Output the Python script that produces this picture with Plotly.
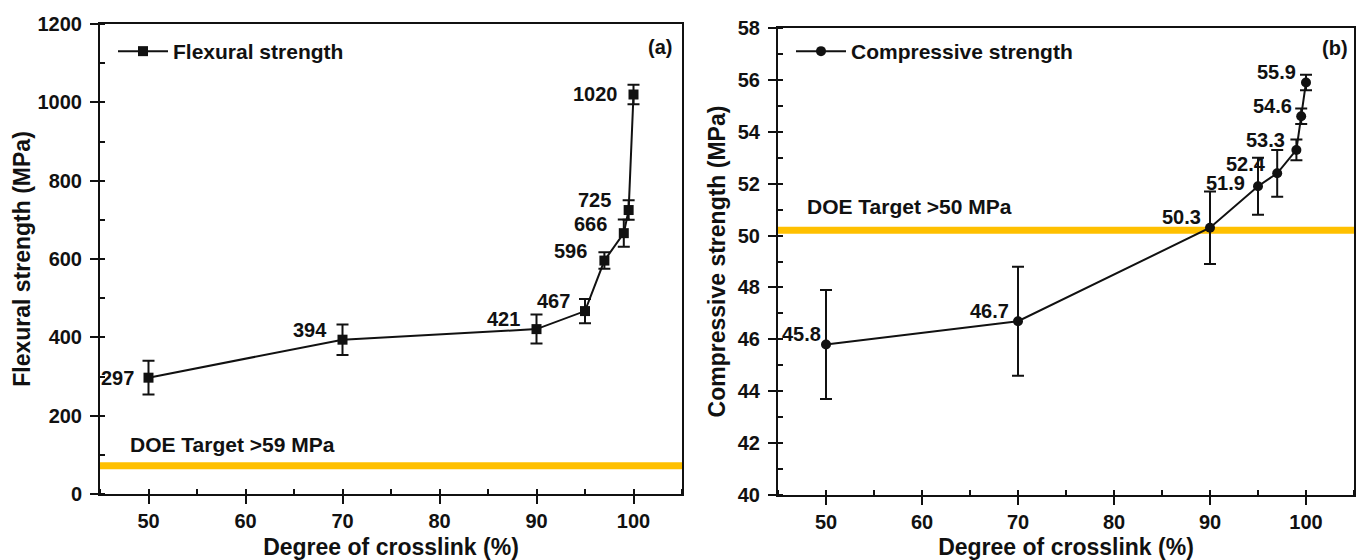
import plotly.graph_objects as go

# ---------------- data ----------------
crosslink_a = [50, 70, 90, 95, 97, 99, 99.5, 100]
flexural = [297, 394, 421, 467, 596, 666, 725, 1020]
flexural_err = [43, 39, 37, 31, 21, 35, 25, 25]
flexural_labels = ["297", "394", "421", "467", "596", "666", "725", "1020"]
flexural_target = 72
flexural_target_text = "DOE Target >59 MPa"
flexural_ticks = [0, 200, 400, 600, 800, 1000, 1200]

crosslink_b = [50, 70, 90, 95, 97, 99, 99.5, 100]
compressive = [45.8, 46.7, 50.3, 51.9, 52.4, 53.3, 54.6, 55.9]
compressive_err = [2.1, 2.1, 1.4, 1.1, 0.9, 0.4, 0.3, 0.3]
compressive_labels = ["45.8", "46.7", "50.3", "51.9", "52.4", "53.3", "54.6", "55.9"]
compressive_target = 50.2
compressive_target_text = "DOE Target >50 MPa"
compressive_ticks = [40, 42, 44, 46, 48, 50, 52, 54, 56, 58]

x_ticks = [50, 60, 70, 80, 90, 100]

# ---------------- styling (label offsets in px) ----------------
lab_shift_a = [(-8, 0), (-9, 10), (-10, 10), (-8, 10), (-10, 10), (-10, 9), (-11, 10), (-9, 0)]
lab_shift_b = [(-2, 11), (-6, 10), (-6, 11), (-10, 3), (-8, 9), (-8, 10), (-6, 10), (-7, 10)]

FONT = "Liberation Sans, Arial, sans-serif"
BLACK = "#111111"
YELLOW = "#FFC000"

fig = go.Figure()

fig.add_trace(go.Scatter(
    x=crosslink_a, y=flexural, mode="lines+markers", name="Flexural strength",
    line=dict(color=BLACK, width=2),
    marker=dict(symbol="square", size=10, color=BLACK),
    error_y=dict(type="data", array=flexural_err, color=BLACK, thickness=2, width=6),
    xaxis="x", yaxis="y", legend="legend",
))
fig.add_trace(go.Scatter(
    x=crosslink_b, y=compressive, mode="lines+markers", name="Compressive strength",
    line=dict(color=BLACK, width=2),
    marker=dict(symbol="circle", size=10, color=BLACK),
    error_y=dict(type="data", array=compressive_err, color=BLACK, thickness=2, width=6),
    xaxis="x2", yaxis="y2", legend="legend2",
))

annotations = []
for xv, yv, t, (dx, dy) in zip(crosslink_a, flexural, flexural_labels, lab_shift_a):
    annotations.append(dict(x=xv, y=yv, xref="x", yref="y", text=t, showarrow=False,
                            xanchor="right", yanchor="middle", xshift=dx - 5, yshift=dy,
                            font=dict(family=FONT, size=20, color=BLACK, weight="bold")))
for xv, yv, t, (dx, dy) in zip(crosslink_b, compressive, compressive_labels, lab_shift_b):
    annotations.append(dict(x=xv, y=yv, xref="x2", yref="y2", text=t, showarrow=False,
                            xanchor="right", yanchor="middle", xshift=dx - 1, yshift=dy,
                            font=dict(family=FONT, size=20, color=BLACK, weight="bold")))

annotations += [
    dict(x=0.048, y=flexural_target, xref="x domain", yref="y", text=flexural_target_text,
         showarrow=False, xanchor="left", yanchor="middle", yshift=21,
         font=dict(family=FONT, size=21, color=BLACK, weight="bold")),
    dict(x=0.047, y=compressive_target, xref="x2 domain", yref="y2", text=compressive_target_text,
         showarrow=False, xanchor="left", yanchor="middle", yshift=24,
         font=dict(family=FONT, size=21, color=BLACK, weight="bold")),
    dict(x=0.962, y=0.951, xref="x domain", yref="y domain", text="(a)", showarrow=False,
         xanchor="center", yanchor="middle",
         font=dict(family=FONT, size=20, color=BLACK, weight="bold")),
    dict(x=0.967, y=0.957, xref="x2 domain", yref="y2 domain", text="(b)", showarrow=False,
         xanchor="center", yanchor="middle",
         font=dict(family=FONT, size=20, color=BLACK, weight="bold")),
]

shapes = [
    dict(type="line", xref="x domain", yref="y", x0=0, x1=1, y0=flexural_target, y1=flexural_target,
         line=dict(color=YELLOW, width=7), layer="below"),
    dict(type="line", xref="x2 domain", yref="y2", x0=0, x1=1, y0=compressive_target, y1=compressive_target,
         line=dict(color=YELLOW, width=7), layer="below"),
]

tickfont = dict(family=FONT, size=20, color=BLACK, weight="bold")
titlefont = dict(family=FONT, size=23, color=BLACK, weight="bold")


def bold(vals):
    return ["<b>%s</b>" % v for v in vals]


def xaxis(domain, anchor):
    return dict(domain=domain, anchor=anchor, range=[45, 105], tickmode="array",
                tickvals=x_ticks, ticktext=bold(x_ticks), ticks="outside", ticklen=8, tickwidth=2,
                tickcolor=BLACK, showline=True, linecolor=BLACK, linewidth=2, mirror=True,
                showgrid=False, zeroline=False, tickfont=tickfont, automargin=False,
                title=dict(text="Degree of crosslink (%)", font=titlefont, standoff=8),
                minor=dict(dtick=5, tick0=45, ticks="inside", ticklen=5, tickwidth=1.5, tickcolor=BLACK))


def yaxis(domain, anchor, rng, ticks_, mdtick, title, standoff):
    return dict(domain=domain, anchor=anchor, range=rng, tickmode="array",
                tickvals=ticks_, ticktext=bold(ticks_),
                ticks="outside", ticklen=8, tickwidth=2, tickcolor=BLACK,
                showline=True, linecolor=BLACK, linewidth=2, mirror=True, automargin=False,
                showgrid=False, zeroline=False, tickfont=tickfont, ticklabelstandoff=4,
                title=dict(text=title, font=titlefont, standoff=standoff),
                minor=dict(dtick=mdtick, tick0=rng[0], ticks="inside", ticklen=5, tickwidth=1.5,
                           tickcolor=BLACK))


fig.update_layout(
    width=1360, height=560, margin=dict(l=0, r=0, t=0, b=0, autoexpand=False),
    paper_bgcolor="white", plot_bgcolor="white",
    xaxis=xaxis([100 / 1360, 682 / 1360], "y"),
    yaxis=yaxis([66 / 560, 536 / 560], "x", [0, 1200], flexural_ticks, 100,
                "Flexural strength (MPa)", 0),
    xaxis2=xaxis([778 / 1360, 1354 / 1360], "y2"),
    yaxis2=yaxis([65 / 560, 532 / 560], "x2", [40, 58], compressive_ticks, 1,
                 "Compressive strength (MPa)", 6),
    legend=dict(x=113 / 1360, y=(560 - 31) / 560, xanchor="left", yanchor="top",
                bgcolor="rgba(0,0,0,0)", font=dict(family=FONT, size=21, color=BLACK, weight="bold"),
                itemwidth=50),
    legend2=dict(x=791 / 1360, y=(560 - 31) / 560, xanchor="left", yanchor="top",
                 bgcolor="rgba(0,0,0,0)", font=dict(family=FONT, size=21, color=BLACK, weight="bold"),
                 itemwidth=50),
    showlegend=True,
    annotations=annotations,
    shapes=shapes,
)

fig.write_html("out.html")
